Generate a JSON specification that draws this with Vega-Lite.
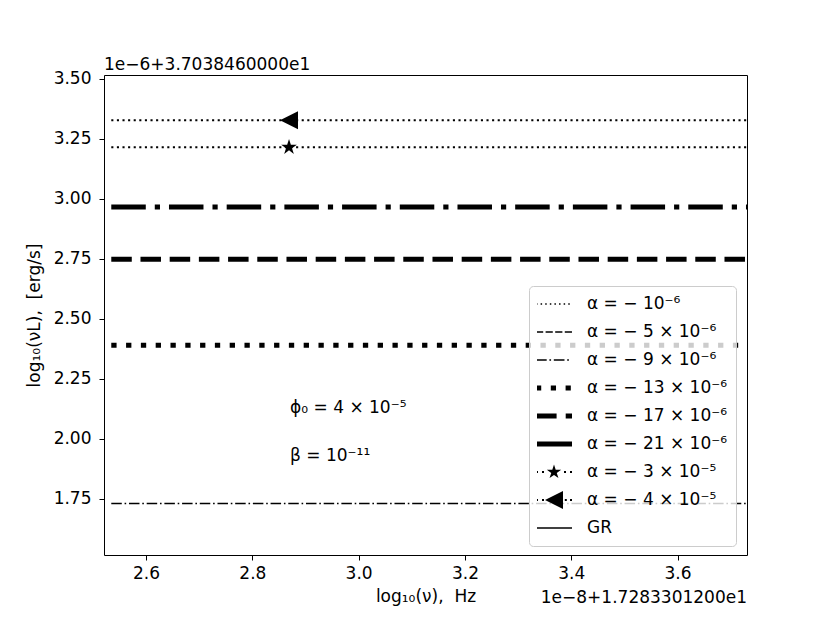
{
  "$schema": "https://vega.github.io/schema/vega-lite/v6.json",
  "width": 643,
  "height": 480,
  "autosize": {"type": "none"},
  "padding": {"left": 104, "top": 75, "right": 83, "bottom": 68},
  "background": "white",
  "title": {"text": "1e−6+3.7038460000e1", "anchor": "start", "frame": "group", "offset": -4, "fontSize": 17, "fontWeight": "normal", "font": "DejaVu Sans", "color": "black"},
  "config": {
    "font": "DejaVu Sans",
    "view": {"stroke": "black", "strokeWidth": 1},
    "axis": {"domain": false, "grid": false, "tickColor": "black", "tickSize": 5, "labelColor": "black", "labelFontSize": 17, "titleFontSize": 17, "titleFontWeight": "normal", "titleColor": "black", "labelFont": "DejaVu Sans", "titleFont": "DejaVu Sans", "labelOverlap": false}
  },
  "datasets": {
    "lines": [
      {"key": "a9", "series": "α = − 9 × 10⁻⁶", "x": 2.5346, "y": 1.73},
      {"key": "a9", "series": "α = − 9 × 10⁻⁶", "x": 3.7307, "y": 1.73},
      {"key": "a13", "series": "α = − 13 × 10⁻⁶", "x": 2.5346, "y": 2.389},
      {"key": "a13", "series": "α = − 13 × 10⁻⁶", "x": 3.7307, "y": 2.389},
      {"key": "a17", "series": "α = − 17 × 10⁻⁶", "x": 2.5346, "y": 2.747},
      {"key": "a17", "series": "α = − 17 × 10⁻⁶", "x": 3.7307, "y": 2.747},
      {"key": "a21", "series": "α = − 21 × 10⁻⁶", "x": 2.5346, "y": 2.965},
      {"key": "a21", "series": "α = − 21 × 10⁻⁶", "x": 3.7307, "y": 2.965},
      {"key": "a30", "series": "α = − 3 × 10⁻⁵", "x": 2.5346, "y": 3.214},
      {"key": "a30", "series": "α = − 3 × 10⁻⁵", "x": 3.7307, "y": 3.214},
      {"key": "a40", "series": "α = − 4 × 10⁻⁵", "x": 2.5346, "y": 3.326},
      {"key": "a40", "series": "α = − 4 × 10⁻⁵", "x": 3.7307, "y": 3.326}
    ],
    "markers": [
      {"key": "a30", "series": "α = − 3 × 10⁻⁵", "x": 2.869, "y": 3.214},
      {"key": "a40", "series": "α = − 4 × 10⁻⁵", "x": 2.869, "y": 3.326}
    ],
    "notes": [
      {"label": "ϕ₀ = 4 × 10⁻⁵", "x": 2.871, "y": 2.126},
      {"label": "β = 10⁻¹¹", "x": 2.871, "y": 1.93}
    ],
    "offset": [
      {"label": "1e−8+1.7283301200e1"}
    ],
    "legend": [
      {"series": "α = − 10⁻⁶"},
      {"series": "α = − 5 × 10⁻⁶"},
      {"series": "α = − 9 × 10⁻⁶"},
      {"series": "α = − 13 × 10⁻⁶"},
      {"series": "α = − 17 × 10⁻⁶"},
      {"series": "α = − 21 × 10⁻⁶"},
      {"series": "α = − 3 × 10⁻⁵"},
      {"series": "α = − 4 × 10⁻⁵"},
      {"series": "GR"}
    ]
  },
  "layer": [
    {
      "data": {"name": "lines"},
      "transform": [{"filter": "datum.key === 'a9'"}],
      "mark": {"type": "line", "color": "black", "strokeWidth": 1.5, "strokeDash": [10.5, 2.8, 1.6, 2.8], "clip": true},
      "encoding": {
        "x": {"field": "x", "type": "quantitative", "scale": {"domain": [2.5209, 3.7307], "nice": false, "zero": false},
              "axis": {"title": "log₁₀(ν),\u00a0\u00a0Hz", "values": [2.6, 2.8, 3.0, 3.2, 3.4, 3.6], "format": ".1f", "labelPadding": 5, "titlePadding": 7, "labelFlush": false}},
        "y": {"field": "y", "type": "quantitative", "scale": {"domain": [1.5158, 3.5148], "nice": false, "zero": false},
              "axis": {"title": "log₁₀(νL),\u00a0\u00a0[erg/s]", "values": [1.75, 2.0, 2.25, 2.5, 2.75, 3.0, 3.25, 3.5], "format": ".2f", "labelPadding": 8, "titlePadding": 10, "labelFlush": false}}
      }
    },
    {
      "data": {"name": "lines"},
      "transform": [{"filter": "datum.key === 'a13'"}],
      "mark": {"type": "line", "color": "black", "strokeWidth": 5, "strokeDash": [5.3, 9.5], "clip": true},
      "encoding": {"x": {"field": "x", "type": "quantitative"}, "y": {"field": "y", "type": "quantitative"}}
    },
    {
      "data": {"name": "lines"},
      "transform": [{"filter": "datum.key === 'a17'"}],
      "mark": {"type": "line", "color": "black", "strokeWidth": 5, "strokeDash": [20.5, 8.7], "clip": true},
      "encoding": {"x": {"field": "x", "type": "quantitative"}, "y": {"field": "y", "type": "quantitative"}}
    },
    {
      "data": {"name": "lines"},
      "transform": [{"filter": "datum.key === 'a21'"}],
      "mark": {"type": "line", "color": "black", "strokeWidth": 5, "strokeDash": [34.5, 9, 5.2, 9], "clip": true},
      "encoding": {"x": {"field": "x", "type": "quantitative"}, "y": {"field": "y", "type": "quantitative"}}
    },
    {
      "data": {"name": "lines"},
      "transform": [{"filter": "datum.key === 'a30' || datum.key === 'a40'"}],
      "mark": {"type": "line", "color": "black", "strokeWidth": 2, "strokeDash": [2.1, 3.5], "clip": true},
      "encoding": {"x": {"field": "x", "type": "quantitative"}, "y": {"field": "y", "type": "quantitative"}, "detail": {"field": "key"}}
    },
    {
      "data": {"name": "markers"},
      "transform": [{"filter": "datum.key === 'a30'"}],
      "mark": {"type": "point", "filled": true, "color": "black", "opacity": 1, "size": 270,
               "shape": "M0,-1L0.225,-0.309L0.951,-0.309L0.363,0.118L0.588,0.809L0,0.382L-0.588,0.809L-0.363,0.118L-0.951,-0.309L-0.225,-0.309Z"},
      "encoding": {"x": {"field": "x", "type": "quantitative"}, "y": {"field": "y", "type": "quantitative"}}
    },
    {
      "data": {"name": "markers"},
      "transform": [{"filter": "datum.key === 'a40'"}],
      "mark": {"type": "point", "filled": true, "color": "black", "opacity": 1, "size": 324, "shape": "M-1,0L1,-1L1,1Z"},
      "encoding": {"x": {"field": "x", "type": "quantitative"}, "y": {"field": "y", "type": "quantitative"}}
    },
    {
      "data": {"name": "notes"},
      "mark": {"type": "text", "align": "left", "baseline": "middle", "fontSize": 17, "font": "DejaVu Sans", "color": "black"},
      "encoding": {"x": {"field": "x", "type": "quantitative"}, "y": {"field": "y", "type": "quantitative"}, "text": {"field": "label"}}
    },
    {
      "data": {"name": "offset"},
      "mark": {"type": "text", "align": "right", "baseline": "middle", "fontSize": 17, "font": "DejaVu Sans", "color": "black", "dy": 42.5, "clip": false},
      "encoding": {"x": {"datum": 3.7307, "type": "quantitative"}, "y": {"datum": 1.5158, "type": "quantitative"}, "text": {"field": "label"}}
    },
    {
      "data": {"name": "legend"},
      "mark": {"type": "point", "filled": true, "color": "black", "opacity": 1, "size": 1296},
      "encoding": {
        "x": {"field": "x", "type": "quantitative"},
        "y": {"field": "y", "type": "quantitative"},
        "shape": {
          "field": "series", "type": "nominal",
          "scale": {
            "domain": ["α = − 10⁻⁶", "α = − 5 × 10⁻⁶", "α = − 9 × 10⁻⁶", "α = − 13 × 10⁻⁶", "α = − 17 × 10⁻⁶", "α = − 21 × 10⁻⁶", "α = − 3 × 10⁻⁵", "α = − 4 × 10⁻⁵", "GR"],
            "range": [
              "M-1,-0.042h0.083v0.084h-0.083zM-0.744,-0.042h0.083v0.084h-0.083zM-0.488,-0.042h0.083v0.084h-0.083zM-0.232,-0.042h0.083v0.084h-0.083zM0.024,-0.042h0.083v0.084h-0.083zM0.28,-0.042h0.083v0.084h-0.083zM0.536,-0.042h0.083v0.084h-0.083zM0.792,-0.042h0.083v0.084h-0.083z",
              "M-1,-0.042h0.4v0.084h-0.4zM-0.467,-0.042h0.4v0.084h-0.4zM0.066,-0.042h0.4v0.084h-0.4zM0.599,-0.042h0.4v0.084h-0.4z",
              "M-1,-0.042h0.594v0.084h-0.594zM-0.256,-0.042h0.094v0.084h-0.094zM-0.011,-0.042h0.594v0.084h-0.594zM0.733,-0.042h0.094v0.084h-0.094z",
              "M-1,-0.14h0.29v0.28h-0.29zM-0.178,-0.14h0.29v0.28h-0.29zM0.644,-0.14h0.29v0.28h-0.29z",
              "M-1,-0.14h1.144v0.28h-1.144zM0.65,-0.14h0.35v0.28h-0.35z",
              "M-1,-0.14h2v0.28h-2z",
              "M-1,-0.056h0.111v0.112h-0.111zM-0.667,-0.056h0.111v0.112h-0.111zM0.556,-0.056h0.111v0.112h-0.111zM0.889,-0.056h0.111v0.112h-0.111zM0,-0.42L0.094,-0.129L0.399,-0.13L0.152,0.049L0.247,0.34L0,0.16L-0.247,0.34L-0.152,0.049L-0.399,-0.13L-0.094,-0.129Z",
              "M-1,-0.056h0.111v0.112h-0.111zM-0.667,-0.056h0.111v0.112h-0.111zM0.6,-0.056h0.111v0.112h-0.111zM0.889,-0.056h0.111v0.112h-0.111zM-0.5,0L0.5,-0.5L0.5,0.5Z",
              "M-1,-0.042h2v0.084h-2z"
            ]
          },
          "legend": {
            "orient": "none", "legendX": 425, "legendY": 211, "title": null,
            "padding": 8, "symbolOffset": -1, "labelOffset": 15, "rowPadding": 8, "clipHeight": 20,
            "symbolSize": 1296,
            "labelFontSize": 17, "labelFont": "DejaVu Sans", "labelColor": "black", "labelLimit": 400, "labelBaseline": "middle",
            "symbolFillColor": "black", "symbolStrokeWidth": 0, "symbolOpacity": 1,
            "strokeColor": "#cccccc", "fillColor": "rgba(255,255,255,0.8)", "cornerRadius": 4
          }
        }
      }
    }
  ]
}
